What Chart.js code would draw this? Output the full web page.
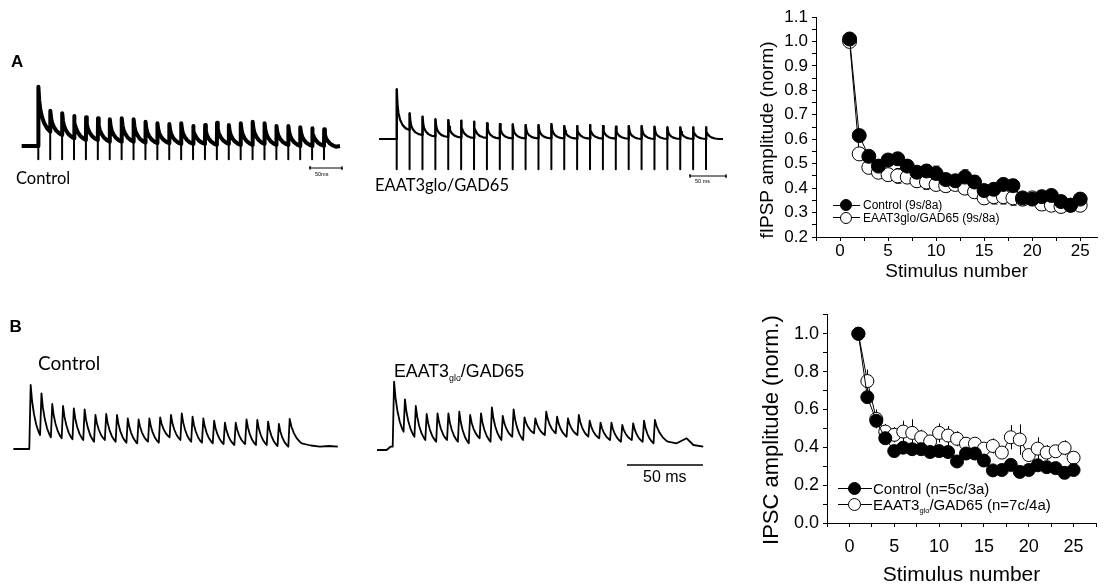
<!DOCTYPE html>
<html><head><meta charset="utf-8">
<script src="https://cdn.jsdelivr.net/npm/chart.js@4.4.0/dist/chart.umd.min.js"></script>
<style>
html,body{margin:0;padding:0;background:#fff;}
body{width:1105px;height:586px;overflow:hidden;position:relative;}
canvas{position:absolute;}
.t{position:absolute;white-space:nowrap;color:#000;line-height:1;}
.cal{font-family:Lato,"Open Sans",sans-serif;}
.ari{font-family:"Liberation Sans",Arial,sans-serif;}
.rot{position:absolute;white-space:nowrap;line-height:1;transform:translate(-50%,-50%) rotate(-90deg);font-family:"Liberation Sans",Arial,sans-serif;color:#000;}
.lg{position:absolute;height:0;}
.lg .ln{position:absolute;height:1px;background:#000;}
.lg .mk{position:absolute;border-radius:50%;border:1px solid #000;box-sizing:border-box;}
.lg .tx{position:absolute;white-space:nowrap;line-height:1;font-family:"Liberation Sans",Arial,sans-serif;color:#000;}
sub{font-size:0.5em;vertical-align:-0.45em;line-height:0;}
</style></head><body>

<canvas id="cA1" width="360" height="120" style="left:0px;top:70px"></canvas>
<canvas id="cA2" width="370" height="120" style="left:370px;top:70px"></canvas>
<canvas id="cB1" width="360" height="110" style="left:0px;top:360px"></canvas>
<canvas id="cB2" width="370" height="120" style="left:370px;top:360px"></canvas>
<canvas id="cTop" width="345" height="290" style="left:760px;top:0px"></canvas>
<canvas id="cBot" width="345" height="290" style="left:760px;top:300px"></canvas>

<div class="t ari" style="left:11px;top:52.5px;font-size:17px;font-weight:bold">A</div>
<div class="t ari" style="left:9.5px;top:317.5px;font-size:17px;font-weight:bold">B</div>
<div class="t cal" style="left:16px;top:170px;font-size:16.5px">Control</div>
<div class="t cal" style="left:375px;top:177px;font-size:16.5px">EAAT3glo/GAD65</div>
<div class="t cal" style="left:38px;top:353px;font-size:19px">Control</div>
<div class="t ari" style="left:394px;top:362.5px;font-size:17.8px">EAAT3<sub>glo</sub>/GAD65</div>
<div class="t ari" style="left:315px;top:172px;font-size:5.5px">50ms</div>
<div class="t ari" style="left:695px;top:178.5px;font-size:5.5px">50 ms</div>
<div class="t ari" style="left:643px;top:469px;font-size:16px">50 ms</div>

<div class="rot" style="left:766px;top:140px;font-size:19px">fIPSP amplitude (norm)</div>
<div class="rot" style="left:771px;top:430px;font-size:22px">IPSC amplitude (norm.)</div>

<div class="lg" style="left:833px;top:205px">
  <div class="ln" style="left:0;top:-0.5px;width:27px"></div>
  <div class="mk" style="left:7px;top:-6px;width:12px;height:12px;background:#000"></div>
  <div class="tx" style="left:30px;top:-6px;font-size:12px">Control (9s/8a)</div>
</div>
<div class="lg" style="left:833px;top:217.5px">
  <div class="ln" style="left:0;top:-0.5px;width:27px"></div>
  <div class="mk" style="left:7px;top:-6px;width:12px;height:12px;background:#fff"></div>
  <div class="tx" style="left:30px;top:-6px;font-size:12px">EAAT3glo/GAD65 (9s/8a)</div>
</div>
<div class="lg" style="left:838px;top:488.5px">
  <div class="ln" style="left:0;top:-0.5px;width:34px"></div>
  <div class="mk" style="left:10px;top:-6.5px;width:13px;height:13px;background:#000"></div>
  <div class="tx" style="left:35px;top:-7.5px;font-size:15px">Control (n=5c/3a)</div>
</div>
<div class="lg" style="left:838px;top:504.5px">
  <div class="ln" style="left:0;top:-0.5px;width:34px"></div>
  <div class="mk" style="left:10px;top:-6.5px;width:13px;height:13px;background:#fff"></div>
  <div class="tx" style="left:35px;top:-7.5px;font-size:15px">EAAT3<sub>glo</sub>/GAD65 (n=7c/4a)</div>
</div>

<script>
// ================= DATA =================
const stimulusNumbers = [1,2,3,4,5,6,7,8,9,10,11,12,13,14,15,16,17,18,19,20,21,22,23,24,25];

// Panel A (fIPSP, norm)
const fipspControl    = [1.01,0.615,0.53,0.49,0.515,0.52,0.49,0.465,0.47,0.46,0.435,0.43,0.445,0.425,0.39,0.395,0.415,0.41,0.36,0.355,0.365,0.37,0.345,0.33,0.355];
const fipspControlErr = [0.01,0.02,0.02,0.02,0.02,0.02,0.02,0.02,0.025,0.03,0.025,0.02,0.03,0.025,0.02,0.02,0.025,0.025,0.02,0.02,0.02,0.02,0.02,0.02,0.02];
const fipspEaat       = [1.0,0.54,0.485,0.465,0.455,0.45,0.445,0.43,0.425,0.415,0.41,0.415,0.4,0.385,0.36,0.365,0.365,0.36,0.355,0.36,0.335,0.33,0.325,0.33,0.33];
const fipspEaatErr    = [0.01,0.02,0.02,0.02,0.025,0.03,0.025,0.025,0.03,0.025,0.025,0.025,0.025,0.025,0.025,0.03,0.03,0.03,0.025,0.02,0.025,0.025,0.025,0.025,0.025];

// Panel B (IPSC, norm.)
const ipscControl    = [1.0,0.665,0.54,0.448,0.38,0.398,0.39,0.39,0.375,0.38,0.375,0.325,0.367,0.367,0.33,0.278,0.28,0.307,0.27,0.28,0.305,0.295,0.29,0.265,0.28];
const ipscControlErr = [0.01,0.03,0.03,0.03,0.02,0.03,0.03,0.02,0.02,0.03,0.03,0.02,0.03,0.03,0.02,0.02,0.02,0.02,0.02,0.02,0.02,0.02,0.02,0.03,0.02];
const ipscEaat       = [1.0,0.75,0.55,0.483,0.466,0.483,0.476,0.453,0.431,0.476,0.462,0.445,0.419,0.419,0.393,0.407,0.372,0.453,0.441,0.359,0.393,0.372,0.379,0.397,0.345];
const ipscEaatErr    = [0.01,0.06,0.05,0.04,0.04,0.057,0.072,0.04,0.03,0.05,0.05,0.04,0.03,0.03,0.03,0.04,0.03,0.064,0.08,0.03,0.06,0.04,0.03,0.04,0.03];

// Axis ticks
const fipspXTicks = [-2.5,0,2.5,5,7.5,10,12.5,15,17.5,20,22.5,25];
const fipspYTicks = [0.2,0.25,0.3,0.35,0.4,0.45,0.5,0.55,0.6,0.65,0.7,0.75,0.8,0.85,0.9,0.95,1.0,1.05,1.1];
const ipscXTicks  = [-2.5,0,2.5,5,7.5,10,12.5,15,17.5,20,22.5,25,27.5];
const ipscYTicks  = [0.0,0.1,0.2,0.3,0.4,0.5,0.6,0.7,0.8,0.9,1.0,1.1];

// Example traces: per-stimulus peak and trough (amplitude above baseline, arbitrary units)
const traceAControlPeaks   = [59.3,35.3,32.7,30,28.7,27.7,26.7,27.7,26.7,24.3,22.7,22,22.7,20,21,23.3,21,22.7,24.3,22.7,20,20,18.7,17.7,16.7];
const traceAControlTroughs = [14.3,11,7.7,6,6,4.3,4.3,4.3,3.3,2.7,2.7,2,2,2,1,2,1,1,2,1,1,0,0,0,-0.7];
const traceAControlPeriod  = 18.6;  // ms
const traceAEaatPeaks   = [49.7,25.7,22.3,19.7,19,18.3,17.3,15.7,15,14.7,14,14,15,13,13,14,13,12.3,13,13,12.3,11.7,11.7,11.7,11.7];
const traceAEaatTroughs = [9,4,2.5,2,1.5,1,1,0.5,0.5,0.5,0.5,0.5,0.5,0.3,0.3,0.3,0.3,0.3,0,0,0,0,0,0,0];
const traceAEaatPeriod  = 17.9;   // ms
const traceBControlPeaks   = [64,55.7,45,43,40.7,39.7,34,35,34,30.7,29.7,30.7,31.7,34,35.7,32.3,30.7,28.3,26.3,26.3,29.7,29,27.3,25,30];
const traceBControlTroughs = [14,11.7,10.7,9.7,9,7.3,9,7.3,6.3,5.7,7.3,6.3,11.7,9,7.3,6.3,5.7,5,4,5,4,4,3,2.3,5.7];
const traceBControlPeriod  = 7.1;  // ms
const traceBEaatPeaks   = [67.3,49.7,43,35,35.7,35.7,37.3,34,35.7,41.7,33,39.7,31.7,30.7,37.3,32.3,30.7,34,28.3,26.3,26.3,24,25.7,28.3,29];
const traceBEaatTroughs = [17.3,12.3,9,7.3,9,7.3,5.7,10.7,7.3,9,12.3,9,15.7,14,15.7,12.3,14,12.3,10.7,9,7.3,9,7.3,5.7,7.3];
const traceBEaatPeriod  = 7.15;  // ms
// baseline before first stimulus and after last decay: [time (ms), amplitude]
const traceAControlPre  = [[-26,0],[0,0]];
const traceAControlTail = [[6.4,0]];
const traceAEaatPre     = [[-24.6,0],[0,0]];
const traceAEaatTail    = [[5.7,0]];
const traceBControlPre  = [[-10.5,0],[0,0]];
const traceBControlTail = [[6,3.5],[12,2.3],[18,3],[23.8,2.3]];
const traceBEaatPre     = [[-10.3,-1],[-4,-1],[-1.5,2.3],[0,2.3]];
const traceBEaatTail    = [[5.7,5.7],[12.3,10.7],[16.7,4],[23.2,2.3]];
// decay waveform templates (fraction of interval, fraction of amplitude)
const decayAControlT = [0,0.06,0.15,0.3,0.5,0.75,1];
const decayAControlF = [1,0.7,0.5,0.33,0.18,0.07,0];
const decayAEaatT    = [0,0.05,0.12,0.25,0.45,0.7,1];
const decayAEaatF    = [1,0.62,0.42,0.25,0.12,0.04,0];
const decayBT        = [0,0.15,0.35,0.6,0.85,1];
const decayBF        = [1,0.68,0.42,0.2,0.06,0];

// ================= BUILDERS =================
function buildTrace(p){
  const pts = p.pre.map(([x,y])=>({x,y}));
  const n = p.peaks.length;
  for(let i=0;i<n;i++){
    const t0 = i*p.period;
    const start = i===0 ? p.pre[p.pre.length-1][1] : p.troughs[i-1];
    pts.push({x:t0,y:start});
    pts.push({x:t0+p.rise,y:p.peaks[i]});
    const dur = (i<n-1 ? p.period : p.lastDecay) - p.rise;
    for(let k=1;k<p.shapeT.length;k++){
      pts.push({x:t0+p.rise+p.shapeT[k]*dur, y:p.troughs[i]+(p.peaks[i]-p.troughs[i])*p.shapeF[k]});
    }
  }
  const tEnd = (n-1)*p.period + p.lastDecay;
  p.tail.forEach(([dt,v])=>pts.push({x:tEnd+dt,y:v}));
  return pts;
}
function buildArtifacts(p,bottom){
  const pts=[];
  for(let i=0;i<p.peaks.length;i++){
    const t0=i*p.period;
    pts.push({x:t0,y:p.peaks[i]},{x:t0,y:bottom},{x:t0+0.01,y:null});
  }
  return pts;
}
function scaleBar(t,len,level,cap){
  if(cap) return [{x:t,y:level+cap},{x:t,y:level-cap},{x:t,y:level},{x:t+len,y:level},{x:t+len,y:level+cap},{x:t+len,y:level-cap}];
  return [{x:t,y:level},{x:t+len,y:level}];
}
// place a trace chart: canvas box (w,h), stim-1 pixel, px per ms, baseline pixel from top
function traceChart(id,w,h,stimPx,pxPerMs,basePx,datasets){
  new Chart(document.getElementById(id),{
    type:'line',
    data:{datasets:datasets.map(d=>Object.assign({borderColor:'#000',pointRadius:0,tension:0,fill:false,spanGaps:false,borderJoinStyle:'round',clip:false},d))},
    options:{responsive:false,animation:false,events:[],layout:{padding:0},
      plugins:{legend:{display:false},tooltip:{enabled:false}},
      scales:{
        x:{type:'linear',display:false,min:-stimPx/pxPerMs,max:(w-stimPx)/pxPerMs},
        y:{type:'linear',display:false,min:-(h-basePx),max:basePx}
      }}
  });
}

const trAC = {peaks:traceAControlPeaks,troughs:traceAControlTroughs,period:traceAControlPeriod,rise:0.3,lastDecay:traceAControlPeriod,pre:traceAControlPre,tail:traceAControlTail,shapeT:decayAControlT,shapeF:decayAControlF};
const trAE = {peaks:traceAEaatPeaks,troughs:traceAEaatTroughs,period:traceAEaatPeriod,rise:0.3,lastDecay:traceAEaatPeriod,pre:traceAEaatPre,tail:traceAEaatTail,shapeT:decayAEaatT,shapeF:decayAEaatF};
const trBC = {peaks:traceBControlPeaks,troughs:traceBControlTroughs,period:traceBControlPeriod,rise:0.9,lastDecay:8.8,pre:traceBControlPre,tail:traceBControlTail,shapeT:decayBT,shapeF:decayBF};
const trBE = {peaks:traceBEaatPeaks,troughs:traceBEaatTroughs,period:traceBEaatPeriod,rise:0.9,lastDecay:9.5,pre:traceBEaatPre,tail:traceBEaatTail,shapeT:decayBT,shapeF:decayBF};

traceChart('cA1',360,120,38.3,0.64,76,[
  {data:buildArtifacts(trAC,-13.3),borderWidth:2},
  {data:buildTrace(trAC),borderWidth:4},
  {data:scaleBar(424.5,50,-22,1.5),borderWidth:1}
]);
traceChart('cA2',370,120,26.7,0.72,69,[
  {data:buildArtifacts(trAE,-30.3),borderWidth:2},
  {data:buildTrace(trAE),borderWidth:2.2},
  {data:scaleBar(407.4,50,-37,1.5),borderWidth:1}
]);
traceChart('cB1',360,110,29.3,1.52,89,[
  {data:buildTrace(trBC),borderWidth:1.8}
]);
traceChart('cB2',370,120,22.7,1.52,89,[
  {data:buildTrace(trBE),borderWidth:1.8},
  {data:scaleBar(154.1,50,-16,0),borderWidth:1.5}
]);

// ================= AMPLITUDE PLOTS =================
const errorBars = {
  id:'errorBars',
  beforeDatasetsDraw(chart,args,opts){
    const ctx=chart.ctx, xs=chart.scales.x, ys=chart.scales.y;
    ctx.save();
    ctx.strokeStyle='#000';ctx.lineWidth=1;
    chart.data.datasets.forEach(ds=>{
      if(!ds.errors) return;
      ds.data.forEach((p,i)=>{
        const e=ds.errors[i]; if(!e) return;
        const x=Math.round(xs.getPixelForValue(p.x))+0.5;
        const y1=ys.getPixelForValue(p.y+e), y2=ys.getPixelForValue(p.y-e);
        ctx.beginPath();ctx.moveTo(x,y1);ctx.lineTo(x,y2);
        if(opts.cap){ctx.moveTo(x-opts.cap,y1);ctx.lineTo(x+opts.cap,y1);ctx.moveTo(x-opts.cap,y2);ctx.lineTo(x+opts.cap,y2);}
        ctx.stroke();
      });
    });
    ctx.restore();
  }
};

function pts(xs,ys){return xs.map((x,i)=>({x,y:ys[i]}));}
function oneDecimalLabel(v){const r=Math.round(v*10);return Math.abs(r-v*10)<1e-6?(r/10).toFixed(1):'';}

function ampChart(id,c){
  new Chart(document.getElementById(id),{
    type:'scatter',
    data:{datasets:[
      {data:pts(stimulusNumbers,c.ctrl),errors:c.ctrlErr,showLine:true,borderColor:'#000',borderWidth:1,
       pointRadius:c.r,pointBackgroundColor:'#000',pointBorderColor:'#000',pointBorderWidth:1},
      {data:pts(stimulusNumbers,c.eaat),errors:c.eaatErr,showLine:true,borderColor:'#000',borderWidth:1,
       pointRadius:c.r,pointBackgroundColor:'#fff',pointBorderColor:'#000',pointBorderWidth:1}
    ]},
    options:{responsive:false,animation:false,events:[],
      layout:{padding:{top:c.padTop,right:c.padRight,left:0,bottom:0}},
      plugins:{legend:{display:false},tooltip:{enabled:false},errorBars:{cap:c.cap}},
      scales:{
        x:{type:'linear',min:c.xMin,max:c.xMax,
          afterBuildTicks:s=>{s.ticks=c.xTicks.map(v=>({value:v}));},
          afterFit:s=>{s.height=c.xH;},
          grid:{drawOnChartArea:false,drawTicks:true,tickLength:4,color:'#000'},
          border:{display:true,color:'#000',width:1},
          ticks:{autoSkip:false,maxRotation:0,padding:c.xPad,color:'#000',font:{family:'"Liberation Sans", Arial',size:c.tickSize},
            callback:v=>(Math.abs(v%5)<1e-9?String(v):'')},
          title:{display:true,text:'Stimulus number',color:'#000',font:{family:'"Liberation Sans", Arial',size:c.titleSize},padding:{top:0,bottom:c.titlePadB}}
        },
        y:{type:'linear',min:c.yMin,max:c.yMax,
          afterBuildTicks:s=>{s.ticks=c.yTicks.map(v=>({value:v}));},
          afterFit:s=>{s.width=c.yW;},
          grid:{drawOnChartArea:false,drawTicks:true,tickLength:4,color:'#000'},
          border:{display:true,color:'#000',width:1},
          ticks:{autoSkip:false,padding:4,color:'#000',font:{family:'"Liberation Sans", Arial',size:c.tickSize},
            callback:v=>c.yLabel(v)}
        }
      }},
    plugins:[errorBars]
  });
}

ampChart('cTop',{ctrl:fipspControl,ctrlErr:fipspControlErr,eaat:fipspEaat,eaatErr:fipspEaatErr,r:7,cap:3,
  padTop:17,padRight:0,xMin:-2.5,xMax:26.75,xTicks:fipspXTicks,xH:53,xPad:0,tickSize:17,titleSize:19,titlePadB:7,
  yMin:0.2,yMax:1.1,yTicks:fipspYTicks,yW:56,yLabel:oneDecimalLabel});

ampChart('cBot',{ctrl:ipscControl,ctrlErr:ipscControlErr,eaat:ipscEaat,eaatErr:ipscEaatErr,r:6.5,cap:0,
  padTop:10,padRight:9,xMin:-2.5,xMax:27.5,xTicks:ipscXTicks,xH:67,xPad:9,tickSize:18,titleSize:21,titlePadB:2,
  yMin:0,yMax:1.1,yTicks:ipscYTicks,yW:67,
  yLabel:v=>{const r=Math.round(v*10);return (r%2===0)?(r/10).toFixed(1):'';}});
</script>
</body></html>
